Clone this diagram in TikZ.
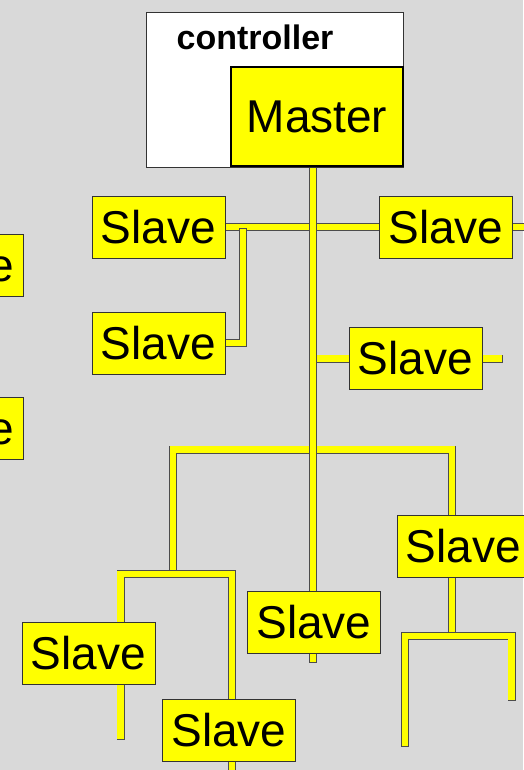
\documentclass[tikz,border=0pt]{standalone}
\usepackage{fontspec}
\setmainfont{Liberation Sans}
\usepackage{tikz}
\usetikzlibrary{backgrounds}
\definecolor{bggray}{RGB}{217,217,217}
\definecolor{busyellow}{RGB}{255,255,0}
\newcommand{\bigfont}{\fontsize{46}{50}\selectfont}
\newcommand{\labelfont}{\fontsize{34}{38}\selectfont\bfseries}
\tikzset{
  slavebox/.style={draw=black!80, line width=0.8pt, fill=busyellow, minimum width=133pt,
                   minimum height=62pt, inner sep=0pt, font=\bigfont},
  masterbox/.style={slavebox, draw=black, line width=2.6pt, minimum width=172pt, minimum height=99pt},
  ctrlbox/.style={draw=black!80, line width=0.8pt, fill=white, minimum width=257pt, minimum height=155pt},
  bus/.style={draw=black!70, line width=0.8pt, double=busyellow, double distance=6.4pt,
              line cap=rect, line join=miter}
}

\begin{document}
\begin{tikzpicture}[x=1pt, y=-1pt]
\useasboundingbox (0,0) rectangle (523,770);

% Controller with master
\node[ctrlbox] (ctrl) at (274.5,89.5) {};
\node[font=\labelfont] (ctrllabel) at (255,37) {controller};
\node[masterbox] (master) at (317,116.5) {Master};

% Slaves
\node[slavebox] (slavetl) at (158.5,227) {Slave};
\node[slavebox] (slavetr) at (446,227) {Slave};
\node[slavebox] (slavel) at (158.5,343) {Slave};
\node[slavebox] (slavemr) at (415.5,358.5) {Slave};
\node[slavebox] (slaver) at (463.5,546) {Slave};
\node[slavebox] (slavec) at (314,622) {Slave};
\node[slavebox] (slavebl) at (88.5,653.5) {Slave};
\node[slavebox] (slaveb) at (229,730.5) {Slave};
\node[slavebox] (slavex) at (-43.5,265.5) {Slave};
\node[slavebox] (slavey) at (-43.5,428) {Slave};

% Bus ends and forks
\coordinate (trunk) at (313,659);
\coordinate (busend) at (530,227);
\coordinate (tapl) at (243,232);
\coordinate (tapmr) at (499,358.5);
\coordinate (forkl) at (173,570);
\coordinate (forkr) at (452,449.5);
\coordinate (subl) at (120.5,736);
\coordinate (subr) at (232,574);
\coordinate (tailb) at (232,775);
\coordinate (rootr) at (452,636);
\coordinate (legl) at (405,743);
\coordinate (legr) at (511.5,697);

% Bus lines (behind the boxes)
\begin{scope}[on background layer]
  \fill[bggray] (0,0) rectangle (523,770);
  \draw[bus] (slavetl.east) -- (slavetr.west);
  \draw[bus] (slavetr.east) -- (busend);
  \draw[bus] (tapl) |- (slavel.east);
  \draw[bus] (slavemr.west -| trunk) -- (slavemr.west);
  \draw[bus] (slavemr.east) -- (tapmr);
  \draw[bus] (forkl) |- (forkr) -- (forkr |- slaver.north);
  \draw[bus] (subl) |- (subr) -- (subr |- slaveb.north);
  \draw[bus] (subr |- slaveb.south) -- (tailb);
  \draw[bus] (forkr |- slaver.south) -- (rootr);
  \draw[bus] (legl) |- (rootr) -| (legr);
  \draw[bus] (trunk |- master.south) -- (trunk);
\end{scope}

\end{tikzpicture}
\end{document}
